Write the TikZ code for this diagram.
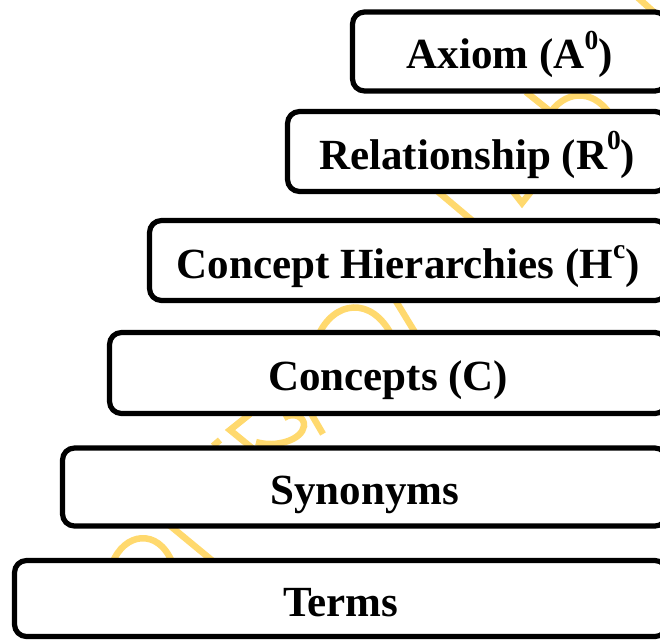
\documentclass[tikz,border=0pt]{standalone}
\usepackage{fontspec}
\setmainfont{Liberation Serif}
\definecolor{wmyellow}{RGB}{255,217,110}
% raised, smaller index used in the tier labels
\newcommand{\tierexp}[1]{\raisebox{19.5pt}{\fontsize{27.5}{30}\selectfont #1}}
\begin{document}
\begin{tikzpicture}[x=1pt,y=-1pt,
  tier/.style={draw=black, line width=5.2pt, rounded corners=12pt, fill=white,
    inner sep=0pt, text height=35pt, text depth=0pt,
    font=\fontsize{43}{48}\selectfont\bfseries},
  wm/.style={draw=wmyellow, line width=6.5pt}]
\useasboundingbox (0,0) rectangle (660,639);

% faint diagonal watermark behind the tiers
\draw[wm] (636,-4) -- (656,14);
\draw[wm] (526,92) -- (556,116);
\draw[wm] (548,116) .. controls (564,90) and (592,88) .. (610,114);
\draw[wm] (436,190) -- (474,222);
\draw[wm] (511,189) -- (522,203) -- (533,189);
\draw[wm] (318,336) .. controls (334,300) and (372,296) .. (392,336);
\draw[wm] (394,298) -- (416,334);
\draw[wm] (250,414) -- (230,430) -- (252,448);
\draw[wm] (256,442) .. controls (276,448) and (302,440) .. (304,426) .. controls (305,416) and (292,412) .. (284,418);
\draw[wm] (309,410) -- (323,434);
\draw[wm] (213,446) -- (220,440);
\draw[wm] (112,564) .. controls (124,532) and (158,528) .. (172,562);
\draw[wm] (168,524) -- (214,562);

% the six tiers, from top to bottom
\node[tier, minimum width=314.5pt, minimum height=79pt] (axiom) at (509.75,51.5) {Axiom (A\tierexp{0})};
\node[tier, minimum width=379.5pt, minimum height=80pt] (relation) at (477.25,151.5) {Relationship (R\tierexp{0})};
\node[tier, minimum width=517.5pt, minimum height=80pt] (hierarchy) at (408.25,260.5) {Concept Hierarchies (H\tierexp{c})};
\node[tier, minimum width=557.5pt, minimum height=81pt] (concepts) at (388.25,373) {Concepts (C)};
\node[tier, minimum width=604.5pt, minimum height=78pt] (synonyms) at (364.75,487) {Synonyms};
\node[tier, minimum width=652.5pt, minimum height=76pt] (terms) at (340.75,598.5) {Terms};
\end{tikzpicture}
\end{document}
